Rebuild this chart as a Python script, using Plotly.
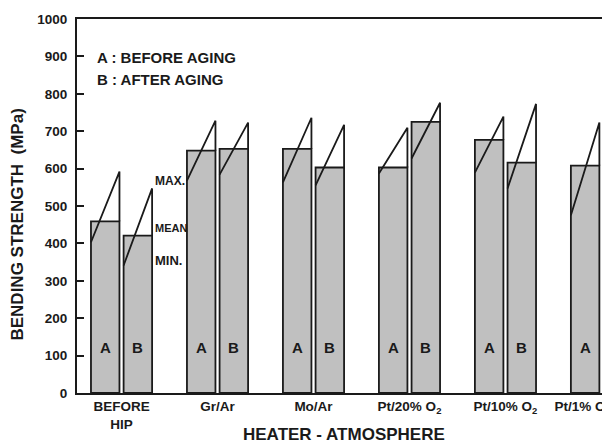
import plotly.graph_objects as go

# heater - atmosphere groups
groups = ["BEFORE<br>HIP", "Gr/Ar", "Mo/Ar", "Pt/20% O<sub>2</sub>",
          "Pt/10% O<sub>2</sub>", "Pt/1% O<sub>2</sub>" + "&nbsp;" * 10]

# A : before aging
mean_a = [459, 648, 653, 603, 677, 608]
min_a = [403, 568, 563, 587, 589, 475]
max_a = [592, 728, 736, 709, 739, 723]

# B : after aging
mean_b = [421, 653, 603, 725, 616, None]
min_b = [341, 584, 555, 627, 547, None]
max_b = [547, 723, 717, 776, 773, None]

FONT = "Liberation Sans, Arial, sans-serif"
INK = "#1a1a1a"
BAR_W = 0.297
OFF = 0.17

xs = list(range(len(groups)))

fig = go.Figure()

for sign, means, label in [(-1, mean_a, "A"), (1, mean_b, "B")]:
    bx = [x + sign * OFF for x in xs]
    fig.add_trace(go.Bar(x=bx, y=means, width=BAR_W, name=label,
                         marker=dict(color="#c0c0c0",
                                     line=dict(color=INK, width=1.8)),
                         showlegend=False))

# min-max triangles: diagonal from min (left edge) to max (right edge), then down to mean
for sign, means, mins, maxs in [(-1, mean_a, min_a, max_a), (1, mean_b, min_b, max_b)]:
    lx, ly = [], []
    for x, m, lo, hi in zip(xs, means, mins, maxs):
        if m is None:
            continue
        c = x + sign * OFF
        lx += [c - BAR_W / 2, c + BAR_W / 2, c + BAR_W / 2, None]
        ly += [lo, hi, m, None]
    fig.add_trace(go.Scatter(x=lx, y=ly, mode="lines",
                             line=dict(color=INK, width=1.8),
                             showlegend=False, hoverinfo="skip"))

# A / B letters inside the bars
for sign, means, label in [(-1, mean_a, "A"), (1, mean_b, "B")]:
    for x, m in zip(xs, means):
        if m is None:
            continue
        fig.add_annotation(x=x + sign * OFF, y=123, text=label, showarrow=False,
                           font=dict(family=FONT, size=15, color=INK, weight="bold"))

# MAX. / MEAN / MIN. key next to the first group
for txt, yv, sz in [("MAX.", 568, 12), ("MEAN", 440, 11), ("MIN.", 355, 13)]:
    fig.add_annotation(x=0.33, y=yv, text=txt, showarrow=False, xanchor="left",
                       font=dict(family=FONT, size=sz, color=INK, weight="bold"))

# legend text
fig.add_annotation(xref="paper", yref="paper", x=0.034, y=0.925, text="A : BEFORE AGING",
                   showarrow=False, xanchor="left",
                   font=dict(family=FONT, size=15, color=INK, weight="bold"))
fig.add_annotation(xref="paper", yref="paper", x=0.034, y=0.865, text="B : AFTER AGING",
                   showarrow=False, xanchor="left",
                   font=dict(family=FONT, size=15, color=INK, weight="bold"))

# axis titles
fig.add_annotation(xref="paper", yref="paper", x=0.5, y=-0.112, text="HEATER - ATMOSPHERE",
                   showarrow=False, yanchor="middle",
                   font=dict(family=FONT, size=17, color=INK, weight="bold"))
fig.add_annotation(xref="paper", yref="paper", x=-0.111, y=0.45,
                   text="BENDING STRENGTH&nbsp;&nbsp;(MPa)",
                   showarrow=False, textangle=-90, xanchor="center", yanchor="middle",
                   font=dict(family=FONT, size=17, color=INK, weight="bold"))

fig.update_xaxes(range=[-0.464, 5.089], tickvals=xs, ticktext=groups,
                 showline=True, linecolor=INK, linewidth=2, mirror=True,
                 ticks="", showgrid=False, zeroline=False,
                 ticklabeloverflow="allow", automargin=False,
                 tickfont=dict(family=FONT, size=13.5, color=INK, weight="bold"))
fig.update_yaxes(range=[0, 1000], dtick=100, showline=True, linecolor=INK, linewidth=2,
                 ticks="inside", ticklen=7, tickwidth=1.5, tickcolor=INK,
                 showgrid=False, zeroline=False, ticklabelstandoff=5, automargin=False,
                 tickfont=dict(family=FONT, size=13.5, color=INK, weight="bold"))

# the page body adds an 8px margin, so the figure is 8px smaller and the margins shifted
fig.update_layout(width=602, height=436, margin=dict(l=69, r=0, t=11, b=51),
                  barmode="overlay", plot_bgcolor="white", paper_bgcolor="white")

fig.write_html("out.html")
